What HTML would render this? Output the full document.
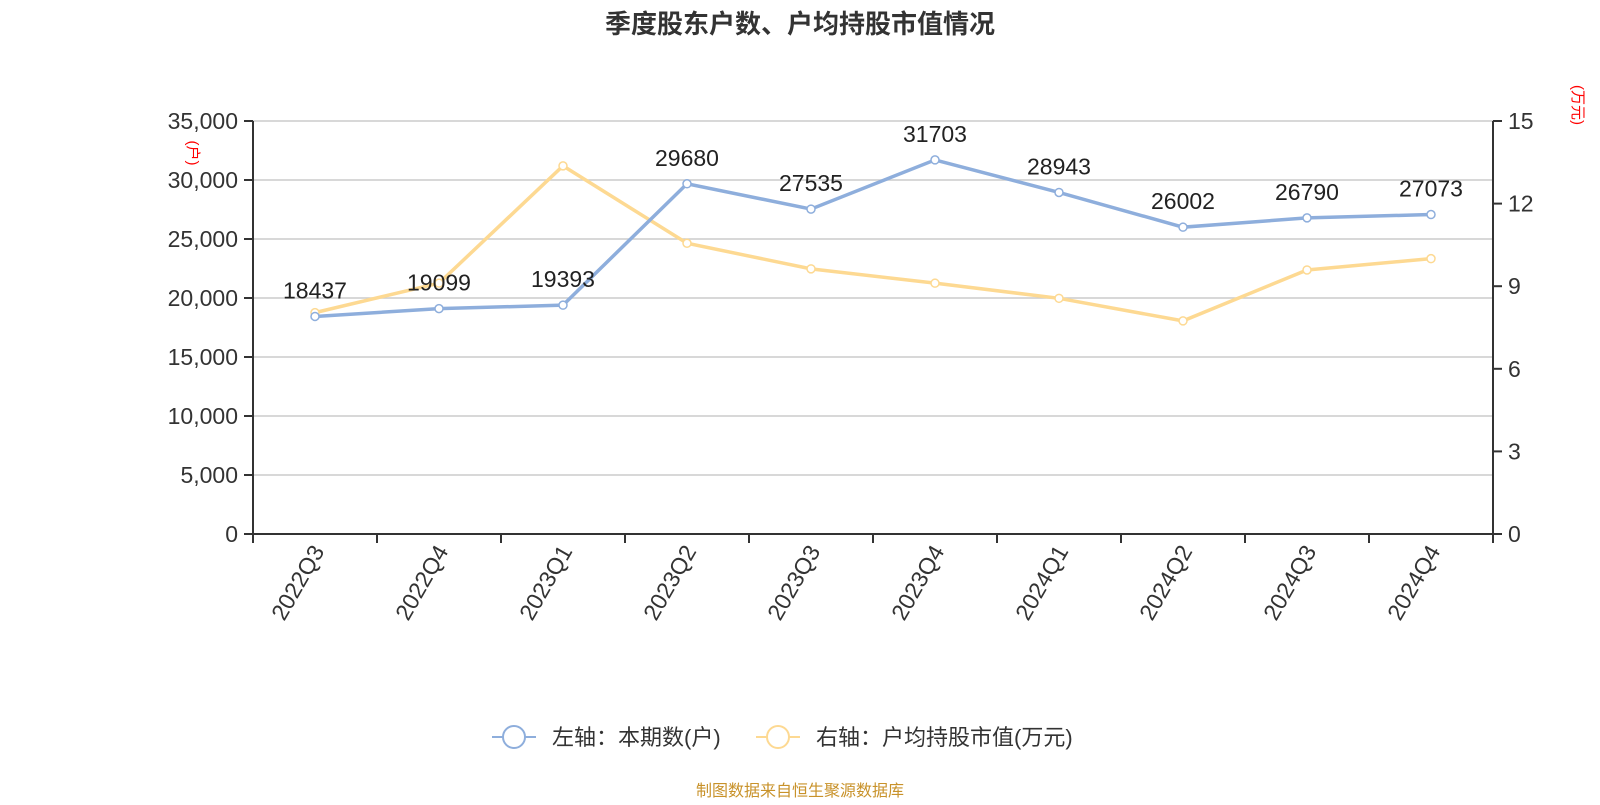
<!DOCTYPE html>
<html><head><meta charset="utf-8"><style>
body{margin:0;background:#fff;width:1600px;height:800px;overflow:hidden}
svg text{font-family:"Liberation Sans","Noto Sans CJK SC",sans-serif}
</style></head><body>
<svg id="c" width="1600" height="800">
<text x="800" y="33" text-anchor="middle" font-size="26" font-weight="bold" fill="#333">季度股东户数、户均持股市值情况</text>
<g id="grid"></g><g id="axes"></g><g id="series"></g>
<g>
<g><line x1="492" y1="737" x2="536" y2="737" stroke="#8eaedc" stroke-width="2"/><circle cx="514" cy="737" r="11" fill="#fff" stroke="#8eaedc" stroke-width="2"/><text x="552" y="745" font-size="22" fill="#333">左轴：本期数(户)</text></g>
<g><line x1="756" y1="737" x2="800" y2="737" stroke="#fdd992" stroke-width="2"/><circle cx="778" cy="737" r="11" fill="#fff" stroke="#fdd992" stroke-width="2"/><text x="816" y="745" font-size="22" fill="#333">右轴：户均持股市值(万元)</text></g>
</g>
<text x="800" y="796" text-anchor="middle" font-size="16" fill="#c8922a">制图数据来自恒生聚源数据库</text>
<text transform="translate(188,153) rotate(90)" text-anchor="middle" font-size="15" fill="#f00">(户)</text>
<text transform="translate(1573,105) rotate(90)" text-anchor="middle" font-size="15" fill="#f00">(万元)</text>
</svg>
<script>
const categories=["2022Q3","2022Q4","2023Q1","2023Q2","2023Q3","2023Q4","2024Q1","2024Q2","2024Q3","2024Q4"];
const holders=[18437,19099,19393,29680,27535,31703,28943,26002,26790,27073];
const avgValue=[8.04,9.11,13.37,10.56,9.63,9.11,8.56,7.74,9.59,10.0];
const leftTicks=[0,5000,10000,15000,20000,25000,30000,35000];
const rightTicks=[0,3,6,9,12,15];
const L=253,R=1493,T=121,B=534,NS="http://www.w3.org/2000/svg";
const step=(R-L)/categories.length;
const x=i=>L+step*(i+0.5);
const yl=v=>B-(v/35000)*(B-T);
const yr=v=>B-(v/15)*(B-T);
function mk(t,a,p){const e=document.createElementNS(NS,t);for(const k in a)e.setAttribute(k,a[k]);p.appendChild(e);return e;}
const g=document.getElementById('grid'),ax=document.getElementById('axes'),s=document.getElementById('series');
leftTicks.forEach(v=>{
 if(v>0){const l=mk('line',{x1:L,x2:R,y1:yl(v),y2:yl(v),stroke:'#ccc','stroke-width':1.5},g);
 
 }
 mk('line',{x1:L-9,x2:L,y1:yl(v),y2:yl(v),stroke:'#333','stroke-width':2},ax);
 const t=mk('text',{x:L-15,y:yl(v)+8,'text-anchor':'end','font-size':23,fill:'#333'},ax);t.textContent=v.toLocaleString('en-US');
 
 
});
rightTicks.forEach(v=>{
 mk('line',{x1:R,x2:R+9,y1:yr(v),y2:yr(v),stroke:'#333','stroke-width':2},ax);
 const t=mk('text',{x:R+15,y:yr(v)+8,'font-size':23,fill:'#333'},ax);t.textContent=v;
 
 
});
mk('line',{x1:L,x2:L,y1:T,y2:B,stroke:'#333','stroke-width':2},ax);
mk('line',{x1:R,x2:R,y1:T,y2:B,stroke:'#333','stroke-width':2},ax);
mk('line',{x1:L,x2:R,y1:B,y2:B,stroke:'#333','stroke-width':2},ax);
for(let i=0;i<=categories.length;i++)mk('line',{x1:L+step*i,x2:L+step*i,y1:B,y2:B+9,stroke:'#333','stroke-width':2},ax);
categories.forEach((c,i)=>{
 const t=mk('text',{transform:`translate(${x(i)+10},${B+17}) rotate(-60)`,'text-anchor':'end','font-size':23,fill:'#333'},ax);t.textContent=c;
 
 
});
function line(vals,fy,color,name,labels){
 const p=mk('polyline',{points:vals.map((v,i)=>x(i)+','+fy(v)).join(' '),fill:'none',stroke:color,'stroke-width':3.5},s);
 
 
 vals.forEach((v,i)=>{
  const c=mk('circle',{cx:x(i),cy:fy(v),r:4,fill:'#fff',stroke:color,'stroke-width':1.5},s);
  
  
 });
 if(labels)vals.forEach((v,i)=>{
  const t=mk('text',{x:x(i),y:fy(v)-18,'text-anchor':'middle','font-size':23,fill:'#222'},s);t.textContent=v;
  
  
 });
}
line(avgValue,yr,'#fdd992','avg-value',false);
line(holders,yl,'#8eaedc','holders',true);
</script>
</body></html>
